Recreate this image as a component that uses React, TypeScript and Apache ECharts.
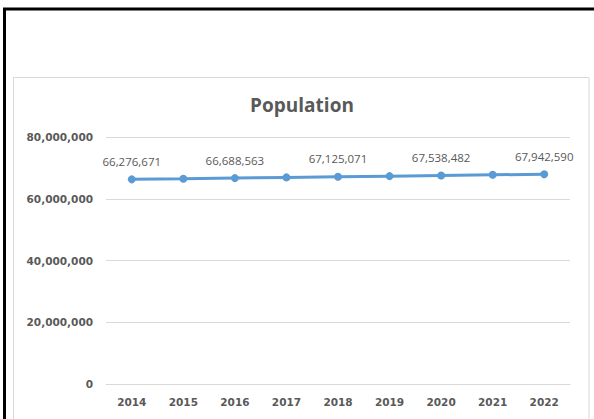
import React, { useEffect, useRef } from "react";
import * as echarts from "echarts";

const categories = ["2014", "2015", "2016", "2017", "2018", "2019", "2020", "2021", "2022"];
const populationValues = [66276671, 66460000, 66688563, 66918000, 67125071, 67320000, 67538482, 67750000, 67942590];
const labelledIndices = [0, 2, 4, 6, 8];
const yTicks = { min: 0, max: 80000000, interval: 20000000 };
const titleText = "Population";

const fmt = (v: number) => v.toLocaleString("en-US");

export default function App() {
  const ref = useRef<HTMLDivElement>(null);
  useEffect(() => {
    if (!ref.current) return;
    const chart = echarts.init(ref.current, undefined, { renderer: "svg" });
    const font = "'Open Sans', 'Noto Sans', sans-serif";
    const axisFont = "'DejaVu Sans', sans-serif";
    chart.setOption({
      animation: false,
      backgroundColor: "#ffffff",
      graphic: [
        {
          type: "rect",
          shape: { x: 13.5, y: 77.5, width: 575.5, height: 400 },
          style: { fill: "#ffffff", stroke: "#d9d9d9", lineWidth: 1 },
          z: -10,
        },
        {
          type: "line",
          shape: { x1: 3, y1: 9, x2: 600, y2: 9 },
          style: { stroke: "#000000", lineWidth: 3 },
        },
        {
          type: "line",
          shape: { x1: 4.5, y1: 8, x2: 4.5, y2: 430 },
          style: { stroke: "#000000", lineWidth: 3 },
        },
        {
          type: "text",
          x: 302,
          y: 105,
          style: {
            text: titleText,
            fill: "#595959",
            font: `bold 19px ${font}`,
            textAlign: "center",
            textVerticalAlign: "middle",
          },
        },
      ],
      grid: { left: 106, right: 24, top: 137, bottom: 35, containLabel: false },
      xAxis: {
        type: "category",
        data: categories,
        boundaryGap: true,
        axisLine: { show: true, lineStyle: { color: "#d9d9d9", width: 1 } },
        axisTick: { show: false },
        axisLabel: {
          color: "#595959",
          fontFamily: axisFont,
          fontWeight: "bold",
          fontSize: 10.5,
          margin: 12,
        },
        splitLine: { show: false },
      },
      yAxis: {
        type: "value",
        min: yTicks.min,
        max: yTicks.max,
        interval: yTicks.interval,
        axisLine: { show: false },
        axisTick: { show: false },
        axisLabel: {
          color: "#595959",
          fontFamily: axisFont,
          fontWeight: "bold",
          fontSize: 10.5,
          margin: 13,
          formatter: (v: number) => fmt(v),
        },
        splitLine: { show: true, lineStyle: { color: "#d9d9d9", width: 1 } },
      },
      series: [
        {
          type: "line",
          data: populationValues.map((v, i) => ({
            value: v,
            label: { show: labelledIndices.includes(i) },
          })),
          symbol: "circle",
          symbolSize: 8,
          lineStyle: { color: "#5b9bd5", width: 3 },
          itemStyle: { color: "#5b9bd5" },
          label: {
            show: false,
            position: "top",
            distance: 8,
            color: "#595959",
            fontFamily: font,
            fontSize: 11.5,
            formatter: (p: any) => fmt(p.value),
          },
        },
      ],
    });
    return () => chart.dispose();
  }, []);
  return (
    <div
      ref={ref}
      style={{ position: "absolute", left: 0, top: 0, width: 594, height: 419 }}
    />
  );
}
